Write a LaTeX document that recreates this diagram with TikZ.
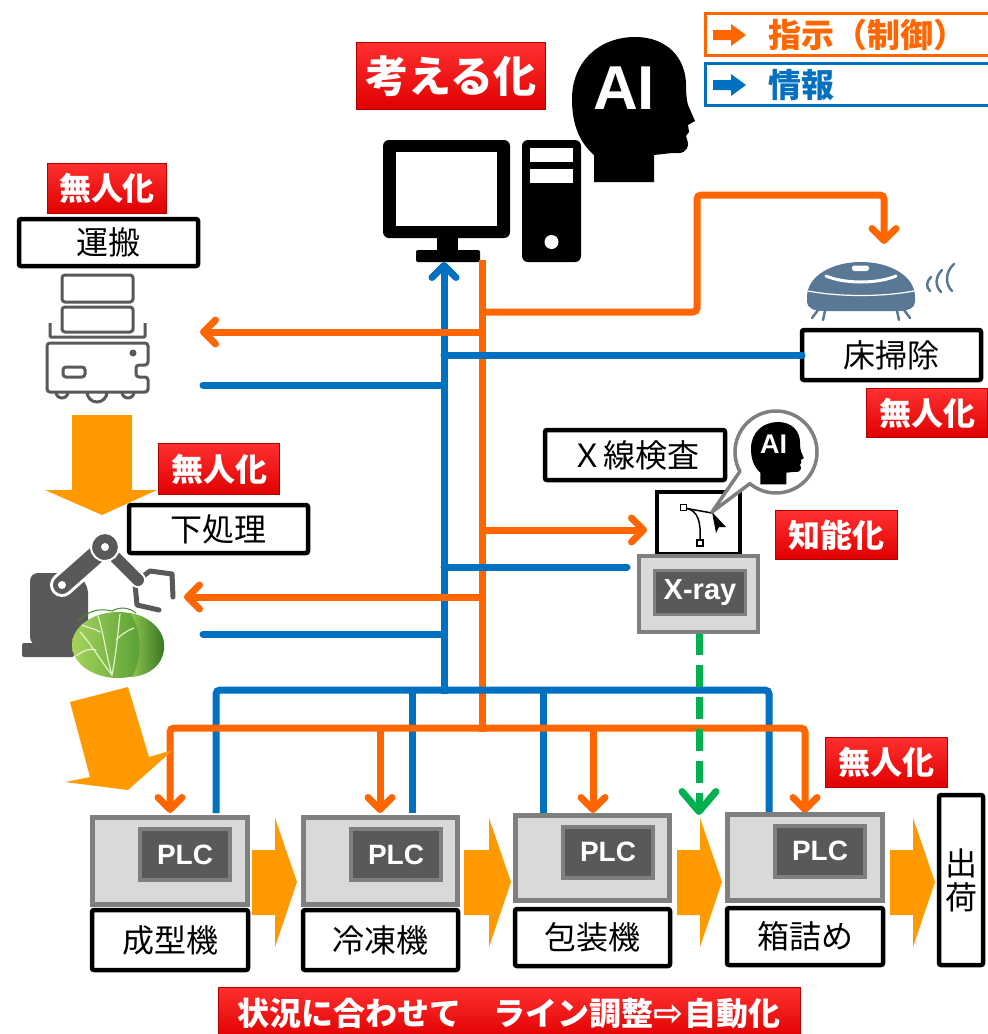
\documentclass[tikz,border=0pt]{standalone}
\usepackage{fontspec}
\setmainfont{Noto Sans CJK JP}
\newfontfamily\lat{Liberation Sans}
\newfontfamily\symb{DejaVu Sans}
\usetikzlibrary{arrows.meta}
\newcommand\setfs[1]{\fontsize{#1}{#1}\selectfont}

\definecolor{ctrl}{HTML}{FF6600}
\definecolor{info}{HTML}{0070C0}
\definecolor{flow}{HTML}{FF9900}
\definecolor{okgreen}{HTML}{00B050}
\definecolor{iconGray}{HTML}{595959}
\definecolor{plcFrame}{HTML}{7F7F7F}
\definecolor{plcFill}{HTML}{D9D9D9}
\definecolor{vacuum}{HTML}{587896}
\definecolor{redTop}{HTML}{FF3030}
\definecolor{redBot}{HTML}{E00000}
\definecolor{redEdge}{HTML}{B00000}
\definecolor{leafLight}{HTML}{A6D45A}
\definecolor{leafDark}{HTML}{3F8F2A}

\tikzset{
  every node/.style={inner sep=0pt, outer sep=0pt},
  redtag/.style={draw=redEdge, line width=0.8pt, top color=redTop, bottom color=redBot,
    text=white, font=\bfseries\setfs{32}},
  namebox/.style={draw=black, line width=4.5pt, fill=white, rounded corners=2pt, font=\setfs{32}},
  plcbody/.style={draw=plcFrame, line width=5pt, fill=plcFill},
  plcpanel/.style={draw=plcFrame, line width=4pt, fill=iconGray, text=white,
    font=\lat\bfseries\setfs{28}, minimum width=90pt, minimum height=51pt},
  ctrlline/.style={draw=ctrl, line width=7pt, rounded corners=4pt},
  infoline/.style={draw=info, line width=7pt, rounded corners=4pt},
  barb/.style={-{Straight Barb[length=12pt,width=24pt,round]}},
  aihead/.pic={
    \fill[black] (22,145) -- (22,118) .. controls (6,104) and (0,85) .. (0,62)
      .. controls (0,24) and (28,0) .. (63,0)
      .. controls (96,0) and (114,22) .. (114,48)
      .. controls (114,58) and (115,64) .. (116,68)
      -- (123,84) -- (116,88) -- (117,95) -- (114,99) -- (116,106)
      .. controls (116,115) and (110,117) .. (100,116)
      -- (82,118) -- (82,145) -- cycle;
  },
}

\begin{document}
\begin{tikzpicture}[x=1pt, y=-1pt]
\useasboundingbox (0,0) rectangle (988,1034);
\fill[white] (0,0) rectangle (988,1034);

% ---------- legend ----------
\node[draw=ctrl, line width=3pt, fill=white, minimum width=290pt, minimum height=42pt, anchor=north west] (legC) at (705,13) {};
\node[draw=info, line width=3pt, fill=white, minimum width=290pt, minimum height=42pt, anchor=north west] (legI) at (705,63) {};
\fill[ctrl] (713,30) -- (731,30) -- (731,24) -- (746,35) -- (731,46) -- (731,40) -- (713,40) -- cycle;
\fill[info] (713,80) -- (731,80) -- (731,74) -- (746,85) -- (731,96) -- (731,90) -- (713,90) -- cycle;
\node[anchor=west, text=ctrl, font=\bfseries\setfs{33}] (legCtxt) at (768,35) {指示（制御）};
\node[anchor=west, text=info, font=\bfseries\setfs{33}] (legItxt) at (768,85) {情報};

% ---------- thinking computer ----------
\node[redtag, font=\bfseries\setfs{43}, minimum width=189pt, minimum height=67pt] (think) at (451,76) {考える化};
\fill[black, rounded corners=6pt] (383,140) rectangle (510,238);
\fill[white] (396,152) rectangle (497,226);
\fill[black] (437,236) rectangle (458,252);
\fill[black, rounded corners=2pt] (416,250) rectangle (480,262);
\fill[black, rounded corners=6pt] (522,140) rectangle (581,262);
\fill[white] (530,148) rectangle (573,162);
\fill[white] (530,169) rectangle (573,183);
\fill[white] (551.5,242) circle[radius=7];
\pic at (572,37) {aihead};
\node[text=white, font=\lat\bfseries\setfs{62}] (aiBig) at (624,88) {AI};

\coordinate (pcBase) at (444,262);
\coordinate (pcCtrl) at (482,260);

% ---------- information lines (blue) ----------
\coordinate (busI) at (444,690);
\draw[infoline, barb] (444,694) -- (pcBase);
\draw[ctrlline] (pcCtrl) -- (482,731.5);
\node[namebox, minimum width=179pt, minimum height=50pt] (floor) at (891.5,355) {床掃除};
\draw[infoline, line cap=round] (floor.west) -- (444,355);
\draw[infoline, line cap=round] (203,385) -- (444,385);
\draw[infoline, line cap=round] (627,567) -- (444,567);
\draw[infoline, line cap=round] (203,634) -- (444,634);
\draw[infoline] (216,813) -- (216,690) -- (769,690) -- (769,812);
\draw[infoline] (412,690) -- (412,813);
\draw[infoline] (543,690) -- (543,813);

% ---------- control lines (orange) ----------
\draw[ctrlline, barb] (482,312) -- (697,312) -- (697,195) -- (884,195) -- (884,244);
\draw[ctrlline, barb] (482,332) -- (200,332);
\draw[ctrlline, barb] (482,530) -- (647,530);
\draw[ctrlline, barb] (482,597) -- (184,597);
\draw[ctrlline, barb] (482,728) -- (170,728) -- (170,813);
\draw[ctrlline, barb] (482,728) -- (805,728) -- (805,813);
\draw[ctrlline, barb] (380,728) -- (380,813);
\draw[ctrlline, barb] (593,728) -- (593,813);

% ---------- x-ray check result ----------
\draw[okgreen, line width=7pt, dash pattern=on 22pt off 10pt,
      -{Straight Barb[length=20pt,width=34pt,round]}] (699,633) -- (699,815);

% ---------- transport (AGV) ----------
\node[redtag, minimum width=119pt, minimum height=50pt] (tagA) at (107,188) {無人化};
\node[namebox, minimum width=179pt, minimum height=47pt] (carry) at (108.5,242.5) {運搬};
\begin{scope}[draw=iconGray, line width=3pt, rounded corners=3pt]
  \draw (62,275) rectangle (133,302);
  \draw (62,307) rectangle (133,332);
  \draw[rounded corners=1pt] (50,323) -- (50,337) -- (145,337) -- (145,323);
  \draw (47,343) -- (148,343) -- (148,365) -- (136,365) -- (136,377) -- (148,377) -- (148,392) -- (47,392) -- cycle;
  \draw (63,367) rectangle (85,377);
  \draw[rounded corners=0pt] (56,392) arc[start angle=180, end angle=0, radius=6];
  \draw[rounded corners=0pt] (87,392) arc[start angle=180, end angle=0, radius=10];
  \draw[rounded corners=0pt] (122,392) arc[start angle=180, end angle=0, radius=6];
\end{scope}
\fill[iconGray] (133,353) circle[radius=3.5];

% flow from transport down to pre-processing
\fill[flow] (72,415) -- (132,415) -- (132,490) -- (157,490) -- (102,515) -- (45,490) -- (72,490) -- cycle;

% ---------- pre-processing (robot arm) ----------
\node[redtag, minimum width=121pt, minimum height=51pt] (tagB) at (219,469) {無人化};
\node[namebox, minimum width=179pt, minimum height=48pt] (prep) at (218.5,529) {下処理};
\fill[iconGray, rounded corners=2pt] (22,643) rectangle (74,657);
\fill[iconGray, rounded corners=8pt] (30,645) -- (30,573) -- (76,573) -- (88,585) -- (88,645) -- cycle;
\draw[white, line width=24pt, line cap=round] (62,585) -- (105,547);
\draw[iconGray, line width=18pt, line cap=round] (62,585) -- (105,547);
\draw[iconGray, line width=5pt, line cap=round, line join=round] (138,580) -- (150,571) -- (172,574) -- (173,597);
\draw[iconGray, line width=5pt, line cap=round, line join=round] (135,584) -- (137,605) -- (159,610);
\draw[white, line width=16pt, line cap=round] (105,547) -- (138,580);
\draw[iconGray, line width=12pt, line cap=round] (105,547) -- (138,580);
\fill[iconGray] (105,547) circle[radius=13];
\draw[white, line width=2pt] (105,547) circle[radius=14];
\fill[white] (105,547) circle[radius=4];
\fill[white] (62,585) circle[radius=4];
% cabbage
\shade[left color=leafLight, right color=leafDark] (118,645) ellipse[x radius=46, y radius=33];
\shade[left color=leafLight!80!leafDark, right color=leafDark!80!black]
  (130,613) .. controls (150,616) and (166,632) .. (164,650)
  .. controls (162,665) and (150,675) .. (132,677)
  .. controls (142,660) and (143,632) .. (130,613) -- cycle;
\begin{scope}[draw=white!70!leafLight, line width=1.2pt, line cap=round]
  \draw (112,675) .. controls (100,660) and (92,645) .. (80,632);
  \draw (112,675) .. controls (106,655) and (104,635) .. (98,616);
  \draw (112,675) .. controls (116,655) and (118,632) .. (120,614);
  \draw (96,650) .. controls (90,648) and (84,650) .. (76,656);
  \draw (100,632) .. controls (94,628) and (88,628) .. (82,625);
  \draw (116,640) .. controls (122,634) and (128,630) .. (134,628);
\end{scope}
\draw[leafDark, line width=1pt] (78,622) .. controls (88,610) and (100,608) .. (112,611)
  .. controls (120,606) and (130,608) .. (136,613);

% flow from pre-processing to forming
\fill[flow] (70,702) -- (128,687) -- (149,757) -- (173,750) -- (128,790) -- (65,782) -- (90,777) -- cycle;

% ---------- floor cleaning robot ----------
\fill[vacuum] (807,297) .. controls (807,276) and (832,262) .. (861,262)
  .. controls (890,262) and (915,276) .. (915,297) -- (915,302)
  .. controls (915,308) and (908,311) .. (898,311) -- (824,311)
  .. controls (814,311) and (807,308) .. (807,302) -- cycle;
\fill[white, rounded corners=2.5pt] (852,265.5) rectangle (869,271);
\draw[white, line width=3pt, line cap=round] (826,276) .. controls (845,284) and (877,284) .. (896,276);
\draw[white, line width=1.2pt] (808,291) .. controls (840,297) and (882,297) .. (914,291);
\begin{scope}[draw=vacuum, line width=2.5pt, line cap=round]
  \draw (818,310) -- (812,318);
  \draw (825,311) -- (823,320);
  \draw (897,311) -- (899,320);
  \draw (904,310) -- (910,318);
  \draw (931,277) .. controls (926,282) and (926,287) .. (930,291);
  \draw (942,270) .. controls (935,277) and (935,286) .. (941,292);
  \draw (954,264) .. controls (945,272) and (945,284) .. (952,291);
\end{scope}
\node[redtag, minimum width=121pt, minimum height=49pt] (tagC) at (927,413) {無人化};

% ---------- X-ray inspection ----------
\node[namebox, minimum width=180pt, minimum height=50pt] (xcheck) at (635,455) {Ｘ線検査};
\node[draw=black, line width=4.5pt, fill=white, minimum width=83pt, minimum height=62pt] (xicon) at (698.5,523) {};
\draw[black, line width=1.5pt] (684,508) .. controls (699,509) and (701,524) .. (700,540);
\draw[black, line width=1.5pt] (684,508) -- (712,513);
\draw[black, line width=1.2pt, fill=white] (680.5,504.5) rectangle (686.5,510.5);
\draw[black, line width=1.2pt, fill=white] (697,540) rectangle (703,546);
\fill[black] (712,512) -- (726,527) -- (719,527) -- (716,533) -- cycle;
\node[draw=plcFrame, line width=4pt, fill=plcFill, minimum width=119pt, minimum height=76pt] (xray) at (698.5,594) {};
\node[draw=plcFrame, line width=3.5pt, fill=iconGray, text=white, font=\lat\bfseries\setfs{29},
      minimum width=91pt, minimum height=44pt] (xpanel) at (700,592.5) {X-ray};
% thinking bubble over the inspection unit
\draw[plcFrame, line width=3.5pt, fill=white, line join=round]
  (712,512) -- ([shift={(151.7:41)}]776,452) arc[start angle=151.7, end angle=489.6, radius=41] -- cycle;
\pic[scale=0.43] at (751,422) {aihead};
\node[text=white, font=\lat\bfseries\setfs{27}] (aiSmall) at (773.5,444) {AI};
\node[redtag, minimum width=122pt, minimum height=49pt] (tagK) at (836,535) {知能化};

% ---------- production line ----------
\foreach \a/\b/\t in {252/275/297, 464/489/511, 677/700/722, 890/913/935}
  \fill[flow] (\a,850) -- (\b,850) -- (\b,818) -- (\t,882) -- (\b,947) -- (\b,915) -- (\a,915) -- cycle;

\node[plcbody, minimum width=155pt, minimum height=87pt] (m1) at (170,861) {};
\node[plcbody, minimum width=154pt, minimum height=87pt] (m2) at (380.5,861) {};
\node[plcbody, minimum width=154pt, minimum height=85pt] (m3) at (592.5,858) {};
\node[plcbody, minimum width=155pt, minimum height=86pt] (m4) at (805,857.5) {};
\node[plcpanel] (p1) at (185,854.5) {PLC};
\node[plcpanel] (p2) at (396,854.5) {PLC};
\node[plcpanel] (p3) at (608,852) {PLC};
\node[plcpanel] (p4) at (820,851) {PLC};

\node[namebox, minimum width=156pt, minimum height=60pt] (n1) at (170,940) {成型機};
\node[namebox, minimum width=155pt, minimum height=60pt] (n2) at (380.5,940) {冷凍機};
\node[namebox, minimum width=155pt, minimum height=57pt] (n3) at (592.5,937.5) {包装機};
\node[namebox, minimum width=156pt, minimum height=57pt] (n4) at (805,936.5) {箱詰め};
\node[namebox, minimum width=44pt, minimum height=170pt, align=center] (ship) at (961,880) {出\\[2pt]荷};
\node[redtag, minimum width=122pt, minimum height=50pt] (tagD) at (886,762) {無人化};

\node[redtag, minimum width=582pt, minimum height=52pt] (banner) at (509,1013)
  {状況に合わせて　ライン調整{\symb\bfseries\setfs{36}⇨}自動化};
\end{tikzpicture}
\end{document}
